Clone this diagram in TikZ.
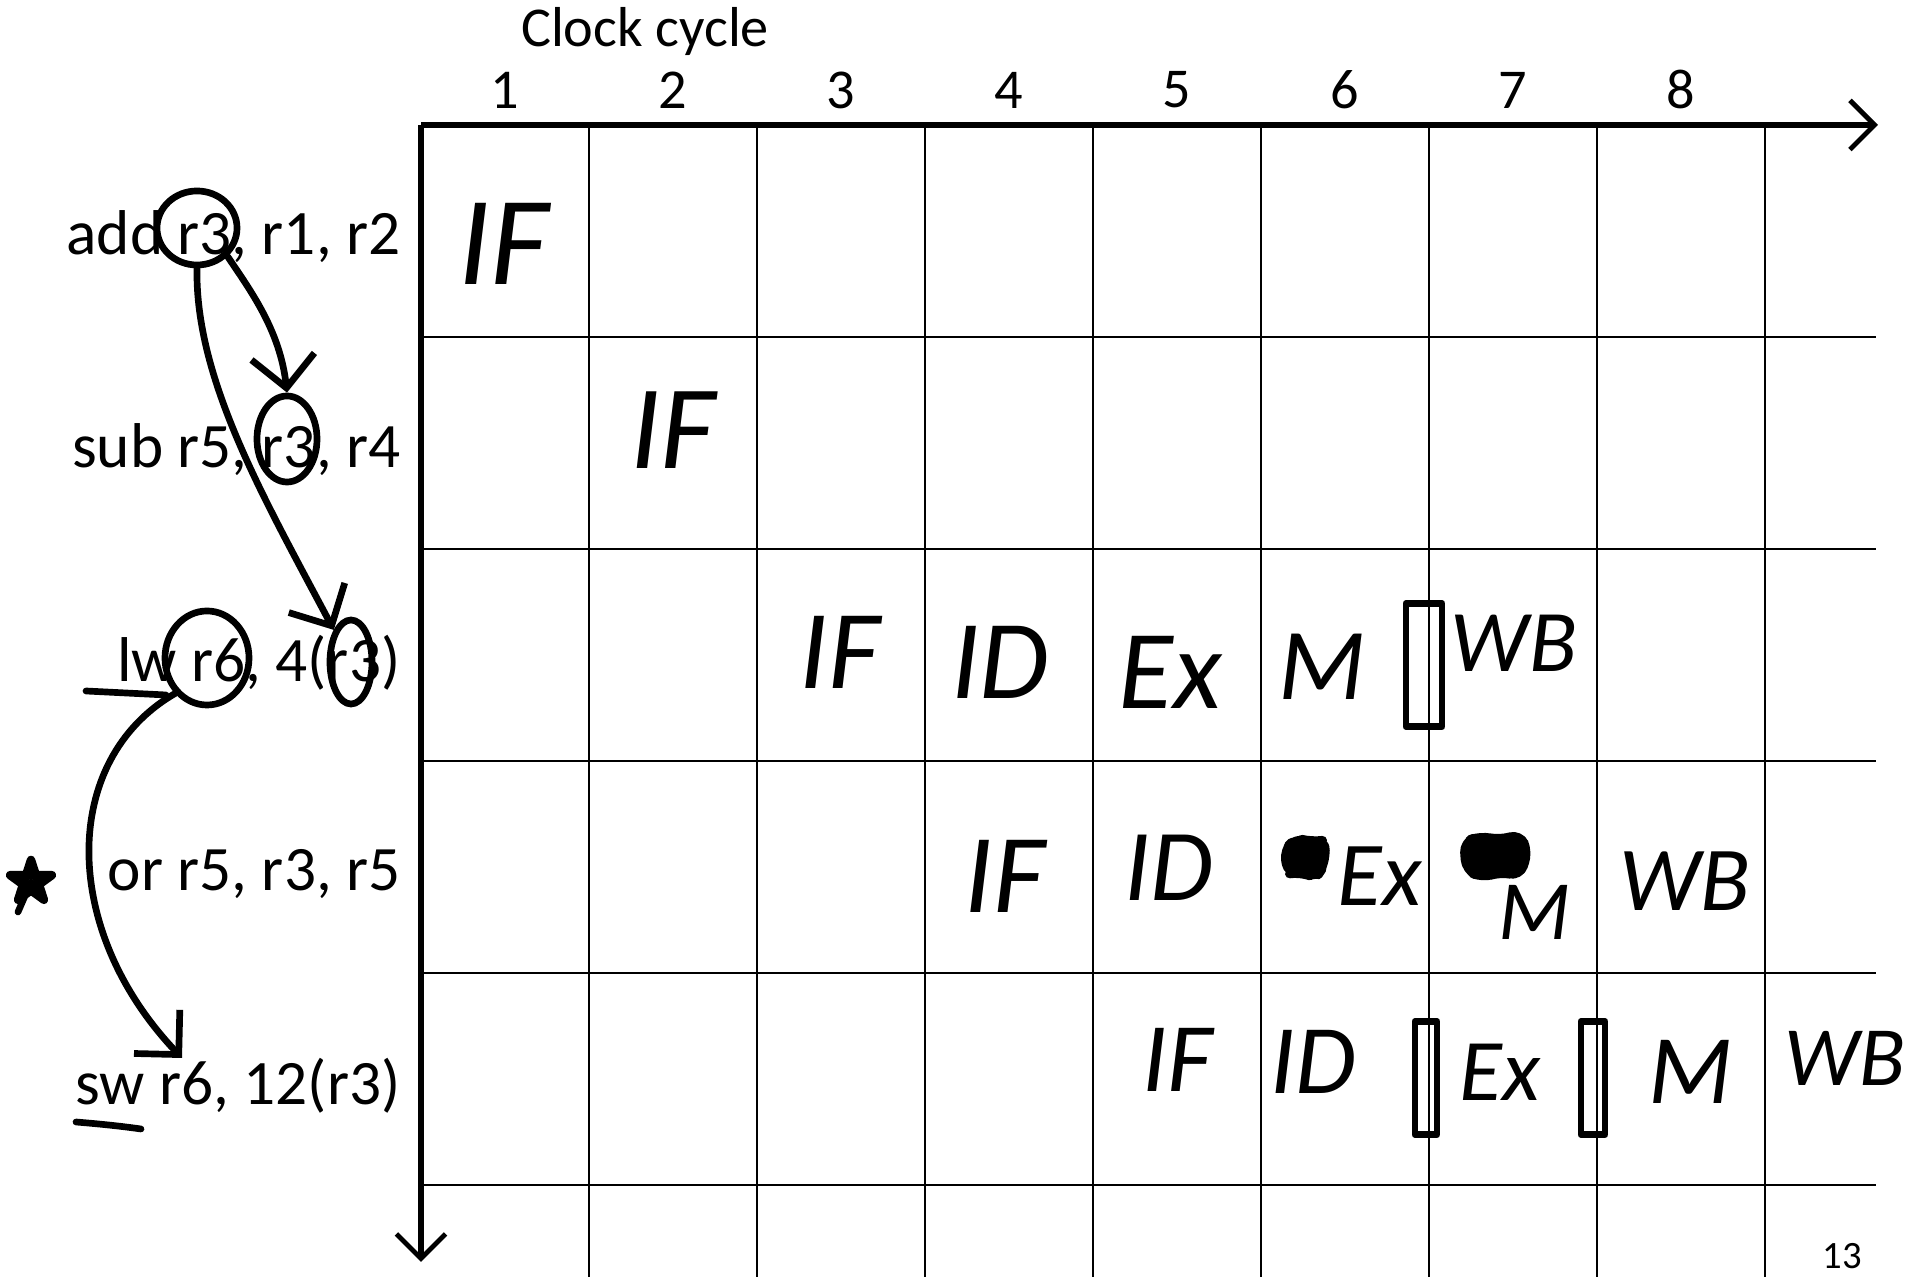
\documentclass[tikz,border=0pt]{standalone}
\usepackage{fontspec}
\setmainfont{Carlito}
\usetikzlibrary{arrows.meta,positioning,shapes.geometric}

\tikzset{
  axis/.style={line width=1.6pt, -{Straight Barb[length=7pt,width=14pt,line width=1.4pt]}},
  gridline/.style={line width=0.7pt},
  instr/.style={anchor=east, inner sep=0pt, font=\fontsize{18}{20}\selectfont},
  cycnum/.style={inner sep=0pt, font=\fontsize{16}{18}\selectfont},
  stage/.style={inner sep=0pt, font=\fontsize{32}{32}\selectfont\itshape},
  pen/.style={line width=1.9pt, line cap=round, line join=round},
  ring/.style={pen, draw, ellipse, inner sep=0pt},
  penarrow/.style={pen, -{Straight Barb[length=9pt,width=18pt,line width=1.9pt]}},
  bubble/.style={pen, draw, rectangle, inner sep=0pt},
  scribble/.style={pen, line width=2.6pt, fill, rounded corners=3pt}
}

\begin{document}
\begin{tikzpicture}[x=0.01cm, y=-0.01cm]
  \useasboundingbox (0,0) rectangle (1929,1277);

  % pipeline grid
  \foreach \i in {1,...,8}
    \draw[gridline] ({421+168*\i},125) -- ({421+168*\i},1277);
  \foreach \j in {1,...,5}
    \draw[gridline] (421,{125+212*\j}) -- (1876,{125+212*\j});
  \coordinate (origin) at (421,125);
  \coordinate (timeend) at (1878,125);
  \coordinate (instrend) at (421,1262);
  \draw[axis] (origin) -- (timeend);
  \draw[axis] (origin) -- (instrend);

  \node[cycnum] (clock) at (645,32) {Clock cycle};
  \foreach \i in {1,...,8}
    \node[cycnum] (cyc\i) at ({421+168*\i-84},90) {\i};

  % instructions
  \node[instr] (add) at (401,237) {add r3, r1, r2};
  \node[instr] (sub) at (401,450) {sub r5, r3, r4};
  \node[instr] (lw)  at (401,663) {lw r6, 4(r3)};
  \node[instr] (or)  at (401,874) {or r5, r3, r5};
  \node[instr] (sw)  at (401,1086) {sw r6, 12(r3)};

  % pen marks on the operands
  \node[ring, minimum width=0.80cm, minimum height=0.74cm] (ringadd) at (197,228) {};
  \node[ring, minimum width=0.60cm, minimum height=0.86cm] (ringsub) at (287,439) {};
  \node[ring, minimum width=0.42cm, minimum height=0.84cm] (ringlwb) at (351,662) {};
  \node[ring, minimum width=0.84cm, minimum height=0.94cm] (ringlwa) at (207,658) {};
  \coordinate (swr6) at (182,1058);

  \draw[penarrow] (ringadd.south east) .. controls (250,290) and (280,330) .. (ringsub.north);
  \draw[penarrow] (ringadd.south) .. controls (195,380) and (265,500) .. (ringlwb.north west);
  \draw[penarrow] (ringlwa.south west) .. controls (60,760) and (60,930) .. (swr6);

  \draw[pen] (86,691) -- (166,695);
  \draw[pen] (76,1122) .. controls (100,1124) and (120,1126) .. (141,1129);
  \coordinate (starc) at (31,882);
  \draw[pen, line width=2.4pt] ([shift={(90:0.22cm)}]starc) -- ([shift={(234:0.22cm)}]starc)
    -- ([shift={(18:0.22cm)}]starc) -- ([shift={(162:0.22cm)}]starc)
    -- ([shift={(306:0.22cm)}]starc) -- cycle;
  \draw[pen] (starc) -- (18,912);

  % stages
  \node[stage, font=\fontsize{36}{36}\selectfont\itshape] (s11) at (504,244) {IF};
  \node[stage, font=\fontsize{34}{34}\selectfont\itshape] (s22) at (673,430) {IF};
  \node[stage] (s33) at (840,652) {IF};
  \node[stage] (s34) at (1000,662) {ID};
  \node[stage] (s35) at (1170,672) {Ex};
  \node[stage, font=\fontsize{29}{29}\selectfont\itshape] (s36) at (1322,667) {M};
  \node[bubble, minimum width=0.36cm, minimum height=1.23cm] (stall3) at (1424,665) {};
  \node[stage, font=\fontsize{25}{25}\selectfont\itshape] (s37) at (1514,643) {WB};

  \node[stage] (s44) at (1005,876) {IF};
  \node[stage, font=\fontsize{29}{29}\selectfont\itshape] (s45) at (1169,868) {ID};
  \draw[scribble] (1284,850) -- (1296,838) -- (1312,842) -- (1326,840) -- (1324,866)
    -- (1316,878) -- (1300,872) -- (1288,874) -- cycle;
  \node[stage, font=\fontsize{26}{26}\selectfont\itshape] (s46) at (1380,876) {Ex};
  \draw[scribble] (1464,842) -- (1480,836) -- (1500,840) -- (1520,834) -- (1528,852)
    -- (1520,876) -- (1500,872) -- (1482,878) -- (1466,870) -- cycle;
  \node[stage, font=\fontsize{24}{24}\selectfont\itshape] (s47) at (1535,912) {M};
  \node[stage, font=\fontsize{26}{26}\selectfont\itshape] (s48) at (1685,881) {WB};

  \node[stage, font=\fontsize{28}{28}\selectfont\itshape] (s55) at (1178,1060) {IF};
  \node[stage, font=\fontsize{28}{28}\selectfont\itshape] (s56) at (1313,1062) {ID};
  \node[bubble, minimum width=0.22cm, minimum height=1.13cm] (stall5a) at (1426,1078) {};
  \node[stage, font=\fontsize{25}{25}\selectfont\itshape] (s57) at (1500,1072) {Ex};
  \node[bubble, minimum width=0.24cm, minimum height=1.13cm] (stall5b) at (1593,1078) {};
  \node[stage, font=\fontsize{28}{28}\selectfont\itshape] (s58) at (1691,1072) {M};
  \node[stage, font=\fontsize{24}{24}\selectfont\itshape] (s59) at (1845,1058) {WB};

  \node[cycnum, font=\fontsize{11}{12}\selectfont] (page) at (1842,1256) {13};
\end{tikzpicture}
\end{document}
